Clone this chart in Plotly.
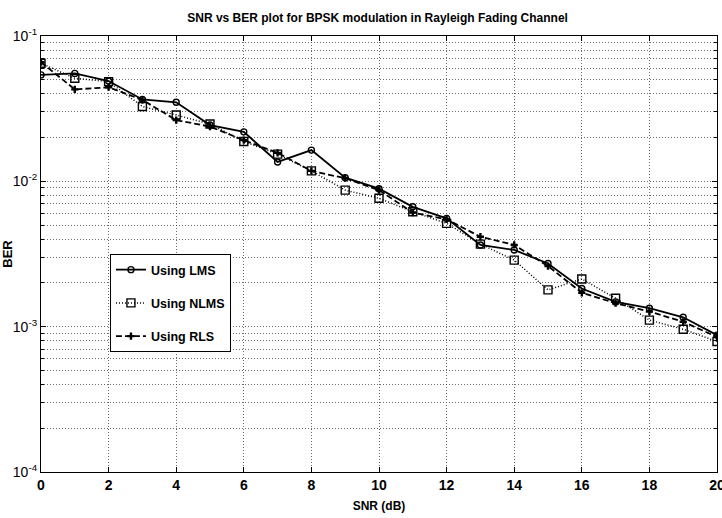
import plotly.graph_objects as go

snr_db = list(range(0, 21))

ber_lms = [0.054, 0.0553, 0.049, 0.0366, 0.035, 0.0244, 0.0219, 0.0136, 0.0164, 0.0106,
           0.0089, 0.00668, 0.00556, 0.00365, 0.00337, 0.00272, 0.00183, 0.00148, 0.00134,
           0.00116, 0.000875]
ber_nlms = [0.0649, 0.0512, 0.0485, 0.0327, 0.0286, 0.0248, 0.0188, 0.0154, 0.0118, 0.0087,
            0.00764, 0.00618, 0.00514, 0.0037, 0.00287, 0.00179, 0.00213, 0.00157, 0.00111,
            0.00096, 0.00079]
ber_rls = [0.066, 0.0429, 0.0444, 0.0363, 0.0264, 0.0238, 0.0192, 0.0157, 0.0118, 0.0105,
           0.0087, 0.0061, 0.00547, 0.00416, 0.00365, 0.00261, 0.00171, 0.00145, 0.00127,
           0.00108, 0.00085]

x_ticks = [0, 2, 4, 6, 8, 10, 12, 14, 16, 18, 20]
y_ticks = [1e-4, 1e-3, 1e-2, 1e-1]
y_tick_text = ["10<sup>-4</sup>", "10<sup>-3</sup>", "10<sup>-2</sup>", "10<sup>-1</sup>"]
# minor decade subdivisions 2..9 for each decade
y_minor = [m * 10.0 ** e for e in (-4, -3, -2) for m in range(2, 10)]

FONT = "Liberation Sans, Arial, sans-serif"

fig = go.Figure()
fig.add_trace(go.Scatter(
    x=snr_db, y=ber_lms, name="<b>Using LMS</b>", mode="lines+markers", legendgroup="lms",
    line=dict(color="black", width=1.8, dash="solid"),
    marker=dict(symbol="circle-open", size=6, color="black", line=dict(width=1.4)),
))
fig.add_trace(go.Scatter(
    x=snr_db, y=ber_nlms, name="<b>Using NLMS</b>", mode="lines+markers", legendgroup="nlms",
    line=dict(color="black", width=1.5, dash="1px,2px"),
    marker=dict(symbol="square-open", size=8, color="black", line=dict(width=1.4)),
))
fig.add_trace(go.Scatter(
    x=snr_db, y=ber_rls, name="<b>Using RLS</b>", mode="lines+markers", legendgroup="rls",
    line=dict(color="black", width=1.8, dash="6px,3px"),
    marker=dict(symbol="cross", size=6, color="black"),
))

grid_color = "rgba(70,70,70,0.8)"
grid_dash = "1px,2px"

fig.update_layout(
    width=722, height=518,
    margin=dict(l=41, r=5, t=36, b=46),
    paper_bgcolor="white", plot_bgcolor="white",
    font=dict(family=FONT, color="black"),
    title=dict(
        text="<b>SNR vs BER plot for BPSK modulation in Rayleigh Fading Channel</b>",
        x=0.523, xanchor="center", y=0.965, yanchor="middle",
        font=dict(family=FONT, size=12, color="black"),
    ),
    showlegend=True,
    legend=dict(
        x=0.102, y=0.5, xanchor="left", yanchor="top",
        bgcolor="white", bordercolor="black", borderwidth=1,
        font=dict(family=FONT, size=12.5, color="black"),
        itemwidth=30, tracegroupgap=14,
    ),
)

fig.update_xaxes(
    range=[0, 20], tickvals=x_ticks, ticktext=[f"<b>{v}</b>" for v in x_ticks],
    tickfont=dict(family=FONT, size=14, color="black"),
    ticklabeloverflow="allow", automargin=False,
    showline=True, linecolor="black", linewidth=1.2, mirror="ticks",
    ticks="inside", ticklen=5, tickcolor="black",
    showgrid=True, gridcolor=grid_color, griddash=grid_dash, gridwidth=1,
    zeroline=False,
    title=dict(text="<b>SNR (dB)</b>", font=dict(family=FONT, size=12, color="black"), standoff=9),
)

fig.update_yaxes(
    type="log", range=[-4, -1], tickvals=y_ticks, ticktext=y_tick_text,
    tickfont=dict(family=FONT, size=14, color="black"),
    ticklabeloverflow="allow", automargin=False,
    showline=True, linecolor="black", linewidth=1.2, mirror="ticks",
    ticks="inside", ticklen=5, tickcolor="black",
    showgrid=True, gridcolor=grid_color, griddash=grid_dash, gridwidth=1,
    minor=dict(tickvals=y_minor, ticks="inside", ticklen=3, tickcolor="black", showgrid=True,
               gridcolor=grid_color, griddash=grid_dash, gridwidth=1),
    zeroline=False,
    title=dict(text="<b>BER</b>", font=dict(family=FONT, size=13, color="black"), standoff=0),
)

fig.write_html("out.html")
